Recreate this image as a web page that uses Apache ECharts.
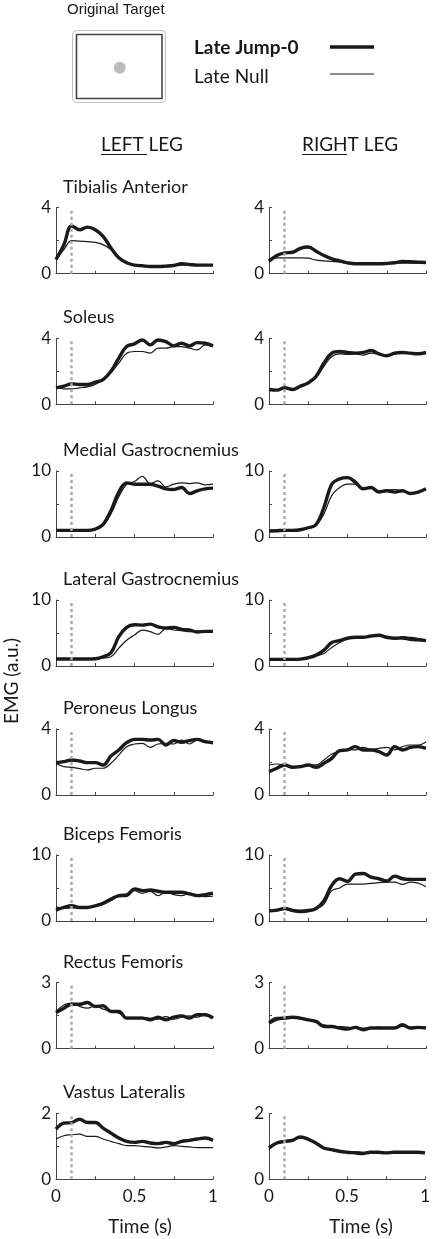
<!DOCTYPE html>
<html><head><meta charset="utf-8">
<script src="https://cdn.jsdelivr.net/npm/echarts@6/dist/echarts.min.js"></script>
<style>html,body{margin:0;padding:0;background:#fff}#c{width:433px;height:1239px}</style>
</head><body><div id="c"></div>
<script>
// ---- data ----
const time = [0,0.05,0.1,0.15,0.2,0.25,0.3,0.35,0.4,0.45,0.5,0.55,0.6,0.65,0.7,0.75,0.8,0.85,0.9,0.95,1];
const muscles = ['Tibialis Anterior','Soleus','Medial Gastrocnemius','Lateral Gastrocnemius','Peroneus Longus','Biceps Femoris','Rectus Femoris','Vastus Lateralis'];
const yMax = [4,4,10,10,4,10,3,2];
const xTickLabels = ['0','0.5','1'];
const perturbTime = 0.1;
const seriesNames = ['Late Jump-0','Late Null'];
const legTitles = ['LEFT LEG','RIGHT LEG'];

const taL_jump = [0.86,1.76,2.9,2.66,2.82,2.66,2.26,1.56,0.96,0.66,0.52,0.48,0.44,0.44,0.46,0.5,0.6,0.56,0.52,0.52,0.52];
const taL_null = [0.86,1.46,2.0,1.98,1.94,1.9,1.76,1.46,0.96,0.62,0.52,0.48,0.46,0.44,0.46,0.48,0.52,0.52,0.52,0.52,0.52];
const taR_jump = [0.76,1.1,1.26,1.3,1.54,1.62,1.36,1.1,0.9,0.78,0.66,0.6,0.6,0.6,0.6,0.62,0.66,0.74,0.72,0.7,0.68];
const taR_null = [0.76,0.96,0.96,0.96,0.96,0.94,0.82,0.78,0.74,0.7,0.64,0.6,0.6,0.6,0.6,0.62,0.64,0.64,0.64,0.64,0.64];

const soL_jump = [1.0,1.1,1.24,1.2,1.2,1.34,1.5,2.0,2.8,3.5,3.66,3.9,3.6,3.9,3.8,3.54,3.7,3.54,3.74,3.7,3.54];
const soL_null = [1.06,0.94,0.94,1.0,1.06,1.2,1.5,1.9,2.5,3.1,3.2,3.2,3.1,3.4,3.4,3.5,3.5,3.4,3.3,3.6,3.54];
const soR_jump = [0.9,0.86,1.0,0.9,1.1,1.3,1.7,2.5,3.1,3.2,3.14,3.1,3.14,3.26,3.06,2.94,3.1,3.14,3.1,3.06,3.14];
const soR_null = [0.9,0.86,0.98,0.9,1.08,1.26,1.6,2.3,2.9,3.06,3.02,3.06,2.98,3.1,3.02,2.94,3.06,3.1,3.1,3.06,3.1];

const mgL_jump = [1.0,1.0,1.0,1.0,1.0,1.2,1.9,4.0,6.8,8.2,8.0,8.0,8.0,7.7,7.3,7.2,7.5,6.6,7.0,7.3,7.4];
const mgL_null = [1.0,1.0,1.0,1.0,1.0,1.1,1.7,3.5,6.1,8.0,8.4,9.2,8.1,8.5,7.6,8.0,8.2,8.1,8.2,7.9,8.0];
const mgR_jump = [0.92,0.95,1.0,1.0,1.1,1.4,1.9,4.5,8.0,8.8,9.0,8.3,7.3,7.5,6.8,7.0,6.8,7.0,6.6,6.8,7.3];
const mgR_null = [0.92,0.95,1.0,1.0,1.1,1.4,1.8,3.5,6.3,7.5,8.0,8.0,7.3,7.6,7.0,7.1,7.2,7.0,6.7,6.8,7.3];

const lgL_jump = [1.06,1.06,1.06,1.06,1.06,1.1,1.4,2.0,4.45,5.85,6.25,6.2,6.35,5.95,5.75,5.85,5.55,5.45,5.15,5.25,5.25];
const lgL_null = [1.06,1.06,1.06,1.06,1.06,1.08,1.2,1.4,2.7,3.9,4.7,5.45,5.2,4.8,5.7,5.45,5.35,5.2,5.3,5.25,5.3];
const lgR_jump = [1.0,1.0,1.0,1.0,1.05,1.25,1.65,2.4,3.55,3.85,4.2,4.35,4.35,4.55,4.65,4.35,4.2,4.25,4.05,3.95,3.85];
const lgR_null = [1.0,1.0,1.0,1.0,1.05,1.2,1.5,1.9,2.8,3.55,4.15,4.3,4.4,4.5,4.6,4.3,4.25,4.45,4.35,4.2,3.95];

const plL_jump = [1.96,2.02,2.12,2.06,1.96,1.96,1.82,2.36,2.73,3.17,3.37,3.37,3.33,3.37,3.03,3.3,3.2,3.3,3.37,3.23,3.17];
const plL_null = [1.92,1.72,1.68,1.6,1.52,1.62,1.62,1.92,2.42,2.93,3.09,3.13,2.89,3.09,3.13,3.09,3.33,3.09,3.33,3.17,3.23];
const plR_jump = [1.41,1.62,1.82,1.68,1.72,1.82,1.68,1.92,2.22,2.69,2.73,2.93,2.73,2.73,2.63,2.42,2.93,2.73,2.89,2.93,2.83];
const plR_null = [1.82,1.88,1.82,1.72,1.76,1.82,1.82,2.12,2.48,2.63,2.77,2.73,2.89,2.77,2.83,2.89,2.73,2.93,3.03,3.03,3.23];

const bfL_jump = [1.64,2.05,2.3,2.05,2.05,2.3,2.67,3.33,3.85,3.95,4.87,4.6,4.7,4.5,4.35,4.35,4.35,4.1,3.85,4.0,4.2];
const bfL_null = [2.15,1.95,1.95,2.05,2.05,2.2,2.56,3.08,3.7,3.7,4.6,4.2,4.5,3.85,4.35,4.0,3.85,4.2,3.85,3.7,3.75];
const bfR_jump = [1.54,1.64,1.9,1.6,1.5,1.6,1.9,3.08,5.4,6.4,6.0,7.1,7.2,6.65,6.4,6.05,6.8,6.4,6.3,6.3,6.3];
const bfR_null = [1.44,1.54,1.8,1.44,1.28,1.38,1.8,2.56,4.6,5.0,5.6,5.6,5.6,5.7,5.8,5.9,5.9,5.55,5.9,5.75,5.2];

const rfL_jump = [1.64,1.84,2.02,2.02,2.1,1.92,1.95,1.69,1.69,1.39,1.39,1.39,1.31,1.43,1.31,1.43,1.49,1.39,1.54,1.54,1.39];
const rfL_null = [1.69,1.99,2.07,1.92,1.84,1.95,1.8,1.73,1.61,1.43,1.43,1.43,1.39,1.34,1.46,1.34,1.43,1.49,1.43,1.54,1.43];
const rfR_jump = [1.16,1.34,1.39,1.43,1.39,1.31,1.24,1.01,1.01,0.94,0.89,0.97,0.86,0.94,0.94,0.94,0.94,1.09,0.94,0.97,0.94];
const rfR_null = [1.24,1.43,1.43,1.46,1.34,1.31,1.19,1.09,1.01,1.01,0.98,0.94,0.94,0.94,0.98,0.94,0.94,1.01,0.98,0.97,0.97];

const vlL_jump = [1.52,1.7,1.72,1.82,1.72,1.72,1.55,1.4,1.25,1.15,1.12,1.15,1.1,1.08,1.12,1.08,1.15,1.18,1.22,1.25,1.18];
const vlL_null = [1.22,1.32,1.35,1.37,1.3,1.3,1.22,1.15,1.08,1.02,1.02,1.0,0.98,0.95,0.98,1.02,1.0,0.98,0.96,0.96,0.96];
const vlR_jump = [0.95,1.1,1.15,1.18,1.28,1.22,1.1,0.95,0.9,0.85,0.82,0.8,0.78,0.82,0.82,0.8,0.82,0.82,0.82,0.82,0.8];
const vlR_null = [0.9,1.08,1.15,1.2,1.25,1.2,1.08,0.95,0.9,0.85,0.82,0.84,0.82,0.82,0.84,0.82,0.82,0.84,0.84,0.83,0.82];

const panels = [
  [[taL_jump,taL_null],[taR_jump,taR_null]],
  [[soL_jump,soL_null],[soR_jump,soR_null]],
  [[mgL_jump,mgL_null],[mgR_jump,mgR_null]],
  [[lgL_jump,lgL_null],[lgR_jump,lgR_null]],
  [[plL_jump,plL_null],[plR_jump,plR_null]],
  [[bfL_jump,bfL_null],[bfR_jump,bfR_null]],
  [[rfL_jump,rfL_null],[rfR_jump,rfR_null]],
  [[vlL_jump,vlL_null],[vlR_jump,vlR_null]]
];

// ---- layout ----
const FONT = 'Lato';
const INK = '#1a1718';
const colLeft = [56, 269];
const plotW = 157;
const rowTop = [207.7, 338.3, 471, 600, 729, 855, 982.7, 1113.3];
const plotH = 66;

const grid = [], xAxis = [], yAxis = [], series = [], title = [];
let gi = 0;
for (let r = 0; r < 8; r++) {
  title.push({text: muscles[r], left: 63, top: rowTop[r] - 30, padding: 0,
    textStyle: {fontFamily: FONT, fontSize: 18, fontWeight: 'normal', color: INK}});
  for (let c = 0; c < 2; c++) {
    grid.push({left: colLeft[c], top: rowTop[r], width: plotW, height: plotH});
    const bottom = r === 7;
    xAxis.push({type: 'value', gridIndex: gi, min: 0, max: 1, interval: 0.25,
      axisLine: {show: true, onZero: false, lineStyle: {color: '#444', width: 1}},
      axisTick: {show: true, inside: true, length: 3, lineStyle: {color: '#444'}},
      splitLine: {show: false},
      axisLabel: {show: bottom, margin: 9, fontFamily: FONT, fontSize: 17, color: INK,
        formatter: v => { const s = String(v); return xTickLabels.includes(s) ? s : ''; }}
    });
    const ym = yMax[r];
    yAxis.push({type: 'value', gridIndex: gi, min: 0, max: ym, interval: ym / 2,
      axisLine: {show: true, lineStyle: {color: '#444', width: 1}},
      axisTick: {show: true, inside: true, length: 3, lineStyle: {color: '#444'}},
      splitLine: {show: false},
      axisLabel: {margin: 5, fontFamily: FONT, fontSize: 17, color: INK,
        formatter: v => (v === 0 || v === ym) ? String(v) : ''}
    });
    const [jump, nul] = panels[r][c];
    series.push({type: 'line', name: seriesNames[0], xAxisIndex: gi, yAxisIndex: gi,
      data: time.map((t, i) => [t, jump[i]]), smooth: 0.4, showSymbol: false,
      lineStyle: {color: '#1a1a1a', width: 3.4}, z: 3,
      markLine: {silent: true, symbol: ['none', 'none'], label: {show: false},
        lineStyle: {color: '#aaaaaa', width: 2.5, type: [3, 3]},
        data: [{xAxis: perturbTime}]}
    });
    series.push({type: 'line', name: seriesNames[1], xAxisIndex: gi, yAxisIndex: gi,
      data: time.map((t, i) => [t, nul[i]]), smooth: 0.4, showSymbol: false,
      lineStyle: {color: '#1a1a1a', width: 1.2}, z: 4});
    gi++;
  }
}

const graphic = [
  {type: 'text', x: 67, y: 10, style: {text: 'Original Target', fontSize: 15, fontFamily: 'Liberation Sans', fill: INK, verticalAlign: 'middle'}},
  {type: 'rect', shape: {x: 72.5, y: 30.5, width: 93, height: 72, r: 4}, style: {fill: '#fff', stroke: '#bdbdbd', lineWidth: 1}},
  {type: 'rect', shape: {x: 76.5, y: 34.5, width: 85.5, height: 64}, style: {fill: '#fff', stroke: '#444', lineWidth: 1.6}},
  {type: 'circle', shape: {cx: 119.7, cy: 67.7, r: 6}, style: {fill: '#bdbdbd'}},
  {type: 'text', x: 194, y: 48, style: {text: seriesNames[0], fontSize: 19, fontWeight: 'bold', fontFamily: FONT, fill: INK, verticalAlign: 'middle'}},
  {type: 'text', x: 194, y: 77, style: {text: seriesNames[1], fontSize: 19, fontFamily: FONT, fill: INK, verticalAlign: 'middle'}},
  {type: 'line', shape: {x1: 330, y1: 47, x2: 374, y2: 47}, style: {stroke: '#1a1a1a', lineWidth: 3.5}},
  {type: 'line', shape: {x1: 330, y1: 74, x2: 374, y2: 74}, style: {stroke: '#1a1a1a', lineWidth: 1.2}},
  {type: 'text', x: 101, y: 145, style: {text: legTitles[0], fontSize: 19, fontFamily: FONT, fill: INK, verticalAlign: 'middle'}},
  {type: 'line', shape: {x1: 101, y1: 154.5, x2: 147, y2: 154.5}, style: {stroke: INK, lineWidth: 1}},
  {type: 'text', x: 302, y: 145, style: {text: legTitles[1], fontSize: 19, fontFamily: FONT, fill: INK, verticalAlign: 'middle'}},
  {type: 'line', shape: {x1: 302, y1: 154.5, x2: 347, y2: 154.5}, style: {stroke: INK, lineWidth: 1}},
  {type: 'text', x: 12, y: 681, rotation: Math.PI / 2, style: {text: 'EMG (a.u.)', fontSize: 19, fontFamily: FONT, fill: INK, align: 'center', verticalAlign: 'middle'}},
  {type: 'text', x: 140, y: 1227, style: {text: 'Time (s)', fontSize: 19, fontFamily: FONT, fill: INK, align: 'center', verticalAlign: 'middle'}},
  {type: 'text', x: 361, y: 1227, style: {text: 'Time (s)', fontSize: 19, fontFamily: FONT, fill: INK, align: 'center', verticalAlign: 'middle'}}
];

const chart = echarts.init(document.getElementById('c'), null, {renderer: 'canvas'});
chart.setOption({animation: false, backgroundColor: '#fff', title, grid, xAxis, yAxis, series, graphic});
</script></body></html>
